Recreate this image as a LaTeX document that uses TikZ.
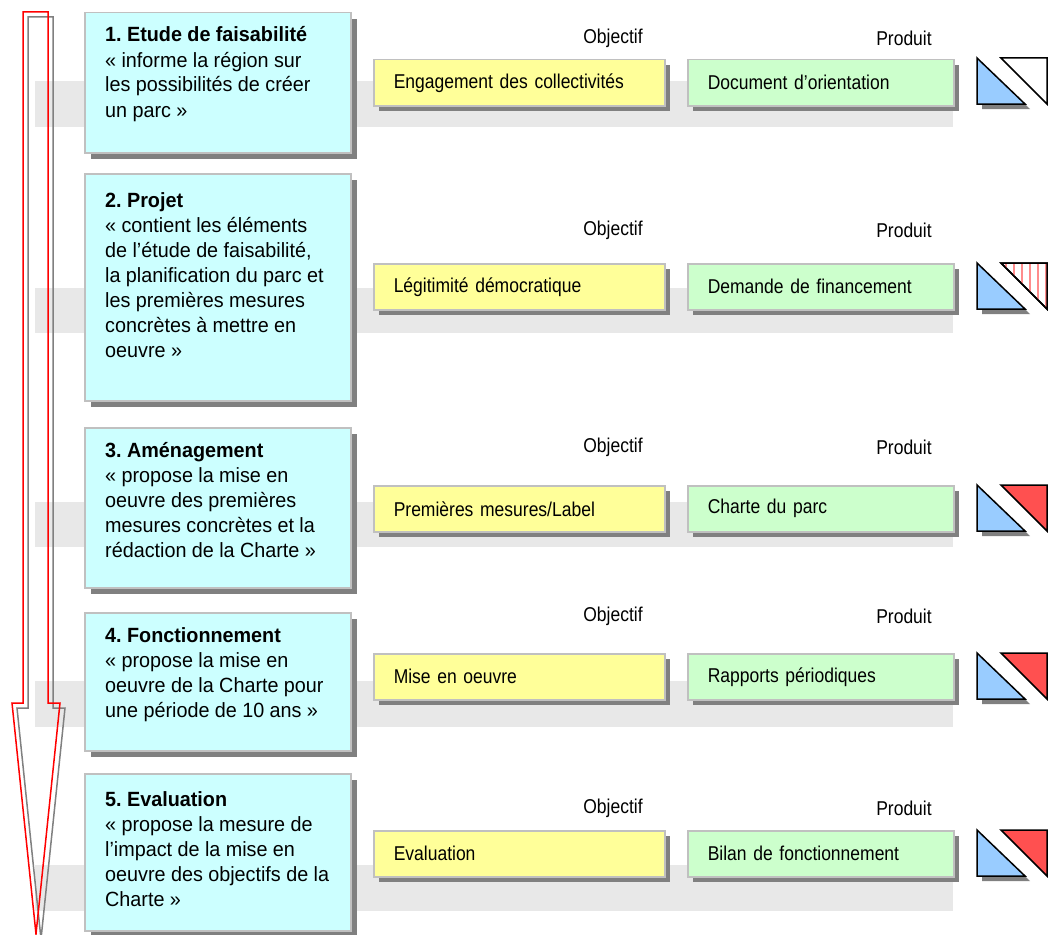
\documentclass[tikz,border=0pt]{standalone}
\usepackage{fontspec}
\setmainfont{Liberation Sans}
\newfontfamily\narrowsans[FakeStretch=0.875]{Liberation Sans}
\newfontfamily\phasesans[FakeStretch=0.96]{Liberation Sans}
\usetikzlibrary{shadows}
\frenchspacing

% interword spaces for the two text faces
\newcommand\narrowspacing{\spaceskip=4.9pt plus 1pt minus 1pt\relax}
\newcommand\phasespacing{\spaceskip=5.4pt plus 1pt minus 1pt\relax}

\definecolor{phasefill}{HTML}{CCFFFF}
\definecolor{objfill}{HTML}{FFFF99}
\definecolor{prodfill}{HTML}{CCFFCC}
\definecolor{bandgray}{HTML}{E8E8E8}
\definecolor{shd}{HTML}{808080}
\definecolor{boxline}{HTML}{C0C0C0}
\definecolor{triblue}{HTML}{99CCFF}
\definecolor{trired}{HTML}{FF5050}
\definecolor{hatchred}{HTML}{FF8C8C}
\definecolor{arrowred}{HTML}{FF0000}
\definecolor{arrowgray}{HTML}{808080}

% pair of status triangles; #1 = top edge, #2 = fill of the right triangle
\newcommand\tripair[2]{%
  \fill[shd] (982,#1+5) -- (982,#1+51) -- (1030,#1+51) -- cycle;
  \filldraw[fill=triblue, tri] (977,#1) -- (977,#1+46) -- (1025,#1+46) -- cycle;
  \filldraw[fill=#2, tri] (1001,#1) -- (1047,#1) -- (1047,#1+46) -- cycle;
}

\begin{document}
\begin{tikzpicture}[x=1pt, y=-1pt,
  band/.style={fill=bandgray},
  phase/.style={draw=boxline, line width=1.5pt, fill=phasefill, anchor=north west,
    inner sep=0pt, minimum width=266pt,
    drop shadow={shadow xshift=6pt, shadow yshift=-6pt, opacity=1, fill=shd}},
  phasetext/.style={anchor=base west, inner sep=0pt,
    font=\phasesans\fontsize{20.6}{25}\selectfont\phasespacing},
  smallbox/.style={draw=boxline, line width=1.5pt, anchor=north west,
    inner xsep=20pt, inner ysep=0pt, minimum height=46pt, align=left,
    font=\narrowsans\fontsize{20}{24}\selectfont\narrowspacing,
    drop shadow={shadow xshift=5pt, shadow yshift=-5pt, opacity=1, fill=shd}},
  objbox/.style={smallbox, fill=objfill, text width=251pt},
  prodbox/.style={smallbox, fill=prodfill, text width=226pt},
  head/.style={inner sep=0pt, font=\narrowsans\fontsize{20}{24}\selectfont},
  tri/.style={draw=black, line width=1.5pt, line join=miter},
  arrowline/.style={line width=1.5pt, line join=miter}
]
\useasboundingbox (0,0) rectangle (1049,934);

% background bands of the five rows
\fill[band] (35,81) rectangle (953,127);
\fill[band] (35,288) rectangle (953,333);
\fill[band] (35,502) rectangle (953,547);
\fill[band] (35,681) rectangle (953,727);
\fill[band] (35,865) rectangle (953,911);

% the time arrow and its offset copy
\draw[arrowline, draw=arrowgray] (28,17) -- (53,17) -- (53,708) -- (65,708)
  -- (41,939) -- (17,708) -- (28,708) -- cycle;
\draw[arrowline, draw=arrowred] (23,12) -- (48,12) -- (48,703) -- (60,703)
  -- (36,934) -- (12,703) -- (23,703) -- cycle;

% phase boxes
\node[phase, minimum height=140pt] (p1) at (84,12) {};
\node[phase, minimum height=227pt] (p2) at (84,173) {};
\node[phase, minimum height=160pt] (p3) at (84,427) {};
\node[phase, minimum height=138pt] (p4) at (84,612) {};
\node[phase, minimum height=157pt] (p5) at (84,773) {};

\node[phasetext] (t1) at (105,42) {\begin{tabular}[t]{@{}l@{}}
  \textbf{1. Etude de faisabilité}\\
  « informe la région sur\\
  les possibilités de créer\\
  un parc »\end{tabular}};
\node[phasetext] (t2) at (105,207) {\begin{tabular}[t]{@{}l@{}}
  \textbf{2. Projet}\\
  « contient les éléments\\
  de l’étude de faisabilité,\\
  la planification du parc et\\
  les premières mesures\\
  concrètes à mettre en\\
  oeuvre »\end{tabular}};
\node[phasetext] (t3) at (105,457) {\begin{tabular}[t]{@{}l@{}}
  \textbf{3. Aménagement}\\
  « propose la mise en\\
  oeuvre des premières\\
  mesures concrètes et la\\
  rédaction de la Charte »\end{tabular}};
\node[phasetext] (t4) at (105,642) {\begin{tabular}[t]{@{}l@{}}
  \textbf{4. Fonctionnement}\\
  « propose la mise en\\
  oeuvre de la Charte pour\\
  une période de 10 ans »\end{tabular}};
\node[phasetext] (t5) at (105,806) {\begin{tabular}[t]{@{}l@{}}
  \textbf{5. Evaluation}\\
  « propose la mesure de\\
  l’impact de la mise en\\
  oeuvre des objectifs de la\\
  Charte »\end{tabular}};

% column headings
\node[head] (h1o) at (613,38) {Objectif};
\node[head] (h1p) at (904,38) {Produit};
\node[head] (h2o) at (613,230) {Objectif};
\node[head] (h2p) at (904,230) {Produit};
\node[head] (h3o) at (613,447) {Objectif};
\node[head] (h3p) at (904,447) {Produit};
\node[head] (h4o) at (613,616) {Objectif};
\node[head] (h4p) at (904,616) {Produit};
\node[head] (h5o) at (613,808) {Objectif};
\node[head] (h5p) at (904,808) {Produit};

% objectives and products
\node[objbox] (o1) at (373,59) {Engagement des collectivités};
\node[prodbox] (r1) at (687,59) {Document d’orientation};
\node[objbox] (o2) at (373,263) {Légitimité démocratique};
\node[prodbox] (r2) at (687,263) {Demande de financement};
\node[objbox] (o3) at (373,485) {Premières mesures/Label};
\node[prodbox] (r3) at (687,485) {Charte du parc};
\node[objbox] (o4) at (373,653) {Mise en oeuvre};
\node[prodbox] (r4) at (687,653) {Rapports périodiques};
\node[objbox] (o5) at (373,830) {Evaluation};
\node[prodbox] (r5) at (687,830) {Bilan de fonctionnement};

% status triangles
\tripair{58}{white}
\tripair{263}{white}
\begin{scope}
  \clip (1001,263) -- (1047,263) -- (1047,309) -- cycle;
  \foreach \hx in {1006,1014,...,1046}
    \draw[hatchred, line width=1.8pt] (\hx,262) -- (\hx,310);
\end{scope}
\draw[tri] (1001,263) -- (1047,263) -- (1047,309) -- cycle;
\tripair{485}{trired}
\tripair{653}{trired}
\tripair{830}{trired}

\end{tikzpicture}
\end{document}
